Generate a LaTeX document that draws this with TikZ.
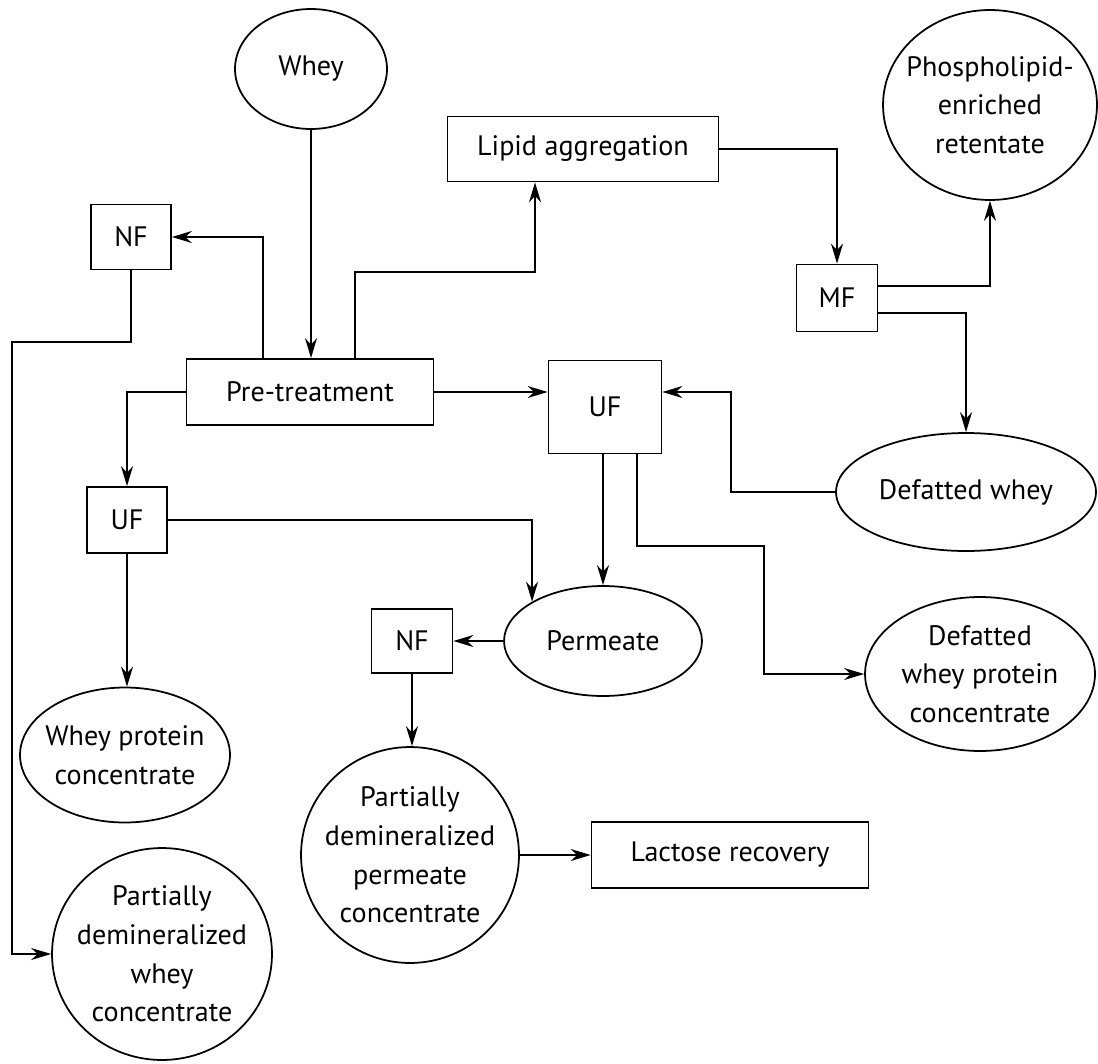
\documentclass[tikz,border=0pt]{standalone}
\usepackage{fontspec}
\setmainfont{PT Sans}
\usetikzlibrary{arrows.meta,shapes.geometric}

\begin{document}
\begin{tikzpicture}[x=0.02cm, y=-0.02cm, line width=1pt,
	font=\fontsize{16}{22}\selectfont,
	box/.style={draw, rectangle, inner sep=0pt},
	blob/.style={draw, ellipse, inner sep=-1cm, align=center},
	flow/.style={-{Stealth[length=0.4cm, width=0.24cm]}}]

	\useasboundingbox (0,0) rectangle (1098,1064);

	% Top row
	\node[blob, minimum width=3.04cm, minimum height=2.4cm] (whey) at (311,69) {Whey};
	\node[box, minimum width=5.42cm, minimum height=1.3cm] (lipid) at (583,149) {Lipid aggregation};
	\node[blob, minimum width=4.28cm, minimum height=3.8cm] (phospho) at (990,105) {Phospholipid-\\enriched\\retentate};
	\node[box, minimum width=1.6cm, minimum height=1.3cm] (nfa) at (131,237) {NF};
	\node[box, minimum width=1.62cm, minimum height=1.34cm] (mf) at (837,298) {MF};

	% Middle
	\node[box, minimum width=4.94cm, minimum height=1.32cm] (pre) at (310,392) {Pre-treatment};
	\node[box, minimum width=2.26cm, minimum height=1.86cm] (uf) at (605,407) {UF};
	\node[blob, minimum width=5.2cm, minimum height=2.36cm] (dwhey) at (966,492) {Defatted whey};
	\node[box, minimum width=1.6cm, minimum height=1.32cm] (ufl) at (127,520) {UF};
	\node[blob, minimum width=3.96cm, minimum height=2.2cm] (perm) at (603,641) {Permeate};
	\node[box, minimum width=1.62cm, minimum height=1.28cm] (nfb) at (412,641) {NF};
	\node[blob, minimum width=4.6cm, minimum height=3.08cm] (dwpc) at (980,674) {Defatted\\whey protein\\concentrate};

	% Bottom
	\node[blob, minimum width=4.2cm, minimum height=2.7cm] (wpc) at (125,755) {Whey protein\\concentrate};
	\node[blob, minimum width=4.36cm, minimum height=4.32cm] (pdpc) at (410,855) {Partially\\demineralized\\permeate\\concentrate};
	\node[box, minimum width=5.54cm, minimum height=1.32cm] (lactose) at (730,855) {Lactose recovery};
	\node[blob, minimum width=4.4cm, minimum height=4.24cm] (pdwc) at (162,954) {Partially\\demineralized\\whey\\concentrate};

	% Whey in
	\draw[flow] (whey.south) -- (whey.south |- pre.north);

	% Out of pre-treatment
	\draw[flow] ([xshift=1.54cm]pre.north west) |- (nfa.east);
	\draw[flow] ([xshift=-1.58cm]pre.north east) -- ++(0,1.72cm) -| ([xshift=-0.96cm]lipid.south);
	\draw[flow] (pre.east) -- (pre.east -| uf.west);
	\draw[flow] (pre.west) -| (ufl.north);

	% Fat removal
	\draw[flow] (lipid.east) -| (mf.north);
	\draw[flow] ([yshift=0.24cm]mf.east) -| (phospho.south);
	\draw[flow] ([yshift=-0.3cm]mf.east) -| (dwhey.north);
	\draw[flow] (dwhey.west) -- ++(-2.08cm,0) |- (pre.east -| uf.east);

	% UF streams
	\draw[flow] (perm.north |- uf.south) -- (perm.north);
	\draw[flow] ([xshift=0.64cm]uf.south) -- ++(0,-1.84cm) -| ([xshift=-2cm]dwpc.west) -- (dwpc.west);
	\draw[flow] (ufl.east) -| (perm.151);
	\draw[flow] (ufl.south) -- (ufl.south |- wpc.north);

	% NF streams
	\draw[flow] (perm.west) -- (nfb.east);
	\draw[flow] (nfb.south) -- (nfb.south |- pdpc.north);
	\draw[flow] (pdpc.east) -- (lactose.west);
	\draw[flow] (nfa.south) -- ++(0,-1.44cm) -| ([xshift=-0.78cm]pdwc.west) -- (pdwc.west);

\end{tikzpicture}
\end{document}
